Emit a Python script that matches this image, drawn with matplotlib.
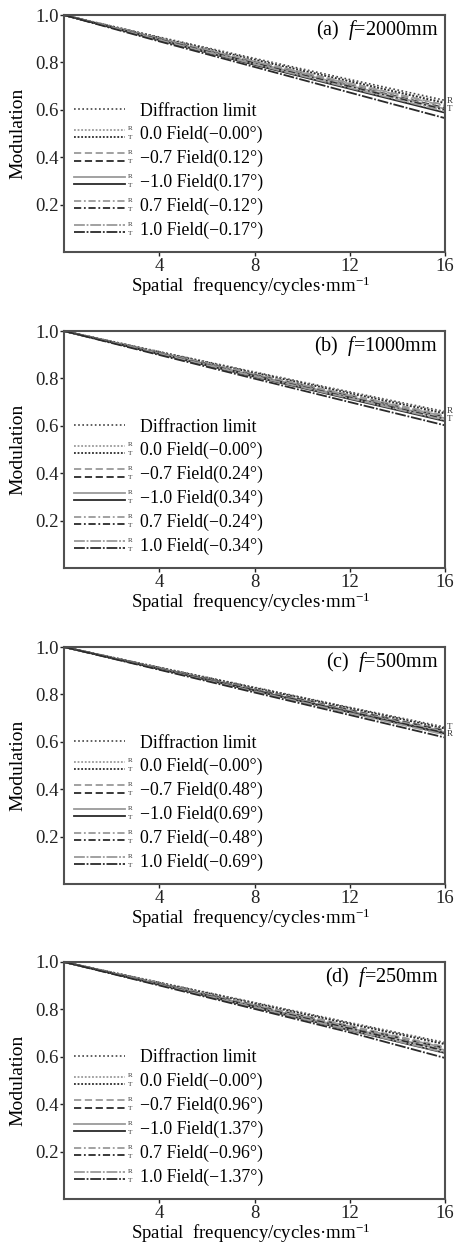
import matplotlib
matplotlib.use('Agg')
import matplotlib.pyplot as plt
from matplotlib.lines import Line2D
from matplotlib.text import Text
from matplotlib.legend_handler import HandlerBase

plt.rcParams['font.family'] = ['Liberation Serif', 'DejaVu Serif']
plt.rcParams['mathtext.fontset'] = 'custom'
plt.rcParams['mathtext.rm'] = 'Liberation Serif'
plt.rcParams['mathtext.it'] = 'Liberation Serif:italic'

# spatial frequency (cycles/mm)
freq = [0, 4, 8, 12, 16]

# rows: diffraction, 0.0 R, 0.0 T, -0.7 R, -0.7 T, -1.0 R, -1.0 T, 0.7 R, 0.7 T, 1.0 R, 1.0 T
mtf_a = [[1.0, 0.907, 0.817, 0.728, 0.640],
         [1.0, 0.905, 0.813, 0.722, 0.632],
         [1.0, 0.904, 0.811, 0.720, 0.628],
         [1.0, 0.902, 0.806, 0.713, 0.620],
         [1.0, 0.899, 0.800, 0.704, 0.608],
         [1.0, 0.898, 0.799, 0.702, 0.604],
         [1.0, 0.894, 0.790, 0.689, 0.588],
         [1.0, 0.901, 0.804, 0.710, 0.616],
         [1.0, 0.897, 0.796, 0.698, 0.600],
         [1.0, 0.895, 0.793, 0.693, 0.594],
         [1.0, 0.889, 0.781, 0.673, 0.565]]
mtf_b = [[1.0, 0.913, 0.827, 0.743, 0.660],
         [1.0, 0.912, 0.825, 0.740, 0.656],
         [1.0, 0.911, 0.823, 0.737, 0.652],
         [1.0, 0.909, 0.819, 0.731, 0.644],
         [1.0, 0.907, 0.815, 0.725, 0.636],
         [1.0, 0.906, 0.813, 0.722, 0.632],
         [1.0, 0.903, 0.807, 0.713, 0.620],
         [1.0, 0.908, 0.817, 0.728, 0.640],
         [1.0, 0.905, 0.811, 0.719, 0.628],
         [1.0, 0.904, 0.809, 0.716, 0.624],
         [1.0, 0.899, 0.799, 0.700, 0.602]]
mtf_c = [[1.0, 0.914, 0.830, 0.745, 0.662],
         [1.0, 0.913, 0.828, 0.743, 0.658],
         [1.0, 0.913, 0.827, 0.742, 0.656],
         [1.0, 0.911, 0.823, 0.736, 0.650],
         [1.0, 0.910, 0.821, 0.733, 0.646],
         [1.0, 0.909, 0.818, 0.729, 0.640],
         [1.0, 0.907, 0.815, 0.724, 0.634],
         [1.0, 0.910, 0.820, 0.731, 0.644],
         [1.0, 0.908, 0.817, 0.726, 0.637],
         [1.0, 0.906, 0.813, 0.721, 0.630],
         [1.0, 0.904, 0.808, 0.713, 0.618]]
mtf_d = [[1.0, 0.914, 0.829, 0.744, 0.660],
         [1.0, 0.913, 0.827, 0.741, 0.656],
         [1.0, 0.912, 0.825, 0.739, 0.653],
         [1.0, 0.910, 0.820, 0.731, 0.642],
         [1.0, 0.908, 0.817, 0.726, 0.636],
         [1.0, 0.907, 0.814, 0.721, 0.628],
         [1.0, 0.904, 0.808, 0.712, 0.616],
         [1.0, 0.909, 0.818, 0.728, 0.638],
         [1.0, 0.906, 0.812, 0.719, 0.625],
         [1.0, 0.904, 0.809, 0.713, 0.618],
         [1.0, 0.901, 0.802, 0.703, 0.595]]

panel_tags = ['(a)', '(b)', '(c)', '(d)']
focal = ['2000mm', '1000mm', '500mm', '250mm']
field_pos = ['0.0', '\u22120.7', '\u22121.0', '0.7', '1.0']
field_deg = [['\u22120.00', '0.12', '0.17', '\u22120.12', '\u22120.17'],
             ['\u22120.00', '0.24', '0.34', '\u22120.24', '\u22120.34'],
             ['\u22120.00', '0.48', '0.69', '\u22120.48', '\u22120.69'],
             ['\u22120.00', '0.96', '1.37', '\u22120.96', '\u22121.37']]
end_marks = [['R', 'T'], ['R', 'T'], ['T', 'R'], []]

styles = [(0, (1, 1)), (0, (4, 2)), '-', (0, (4, 1.5, 1, 1.5)), (0, (6, 1, 1, 1))]
col_r = '#9a9a9a'
col_t = '#2a2a2a'


class RTHandler(HandlerBase):
    def create_artists(self, legend, orig_handle, xdescent, ydescent,
                       width, height, fontsize, trans):
        ym = height / 2 - ydescent
        x0, x1 = -xdescent, -xdescent + width * 0.8
        out = []
        if len(orig_handle) == 1:
            ln = Line2D([x0, x1], [ym, ym])
            ln.update_from(orig_handle[0])
            ln.set_transform(trans)
            return [ln]
        gap = fontsize * 0.2
        for h, dy in zip(orig_handle, (gap, -gap)):
            ln = Line2D([x0, x1], [ym + dy, ym + dy])
            ln.update_from(h)
            ln.set_transform(trans)
            out.append(ln)
        for s, dy in (('R', gap * 1.3), ('T', -gap * 1.3)):
            out.append(Text(x1 + fontsize * 0.15, ym + dy, s, fontsize=fontsize * 0.4,
                            ha='left', va='center', color='#333333', transform=trans))
        return out


fig = plt.figure(figsize=(4.56, 12.44), dpi=100)
bottoms = [0.7974, 0.5434, 0.2894, 0.0362]
all_mtf = [mtf_a, mtf_b, mtf_c, mtf_d]

for k in range(4):
    ax = fig.add_axes([0.1404, bottoms[k], 0.8355, 0.1905])
    mtf = all_mtf[k]
    handles = []
    labels = []
    hd, = ax.plot(freq, mtf[0], color='#444444', lw=1.2, ls=(0, (1, 1.5)))
    handles.append((hd,))
    labels.append('Diffraction limit')
    for i in range(5):
        hr, = ax.plot(freq, mtf[1 + 2 * i], color=col_r, lw=1.3, ls=styles[i])
        ht, = ax.plot(freq, mtf[2 + 2 * i], color=col_t, lw=1.3, ls=styles[i])
        handles.append((hr, ht))
        labels.append(field_pos[i] + ' Field(' + field_deg[k][i] + '\u00b0)')

    ax.set_xlim(0, 16)
    ax.set_ylim(0, 1.0)
    ax.set_xticks([4, 8, 12, 16])
    ax.set_yticks([0.2, 0.4, 0.6, 0.8, 1.0])
    ax.set_yticklabels(['0.2', '0.4', '0.6', '0.8', '1.0'])
    ax.tick_params(direction='out', length=3, width=1, pad=1, labelsize=13.5,
                   colors='#222222')
    for sp in ax.spines.values():
        sp.set_color('#505050')
        sp.set_linewidth(1.5)

    ax.set_ylabel('Modulation', fontsize=14)
    ax.yaxis.set_label_coords(-0.1, 0.5)
    ax.set_xlabel('Spatial  frequency/cycles\u00b7mm$^{-1}$', fontsize=13.5)
    ax.xaxis.set_label_coords(0.49, -0.095)

    ax.text(0.982, 0.935, panel_tags[k] + '  $f$=' + focal[k], transform=ax.transAxes,
            ha='right', va='center', fontsize=14.5)

    leg = ax.legend(handles, labels, handler_map={tuple: RTHandler()},
                    loc='lower left', bbox_to_anchor=(0.025, 0.055), frameon=False,
                    fontsize=12.8, handlelength=3.6, handletextpad=0.15,
                    labelspacing=0.37, borderpad=0, borderaxespad=0)

    # R / T tags beside the curve ends
    top_val = max(row[-1] for row in mtf[1:])
    for j, s in enumerate(end_marks[k]):
        ax.annotate(s, (freq[-1], top_val), xytext=(1.5, 1 - 5.5 * j), textcoords='offset points',
                    fontsize=6.5, color='#333333', va='center', ha='left', annotation_clip=False)

fig.savefig('out.png', dpi=100)
